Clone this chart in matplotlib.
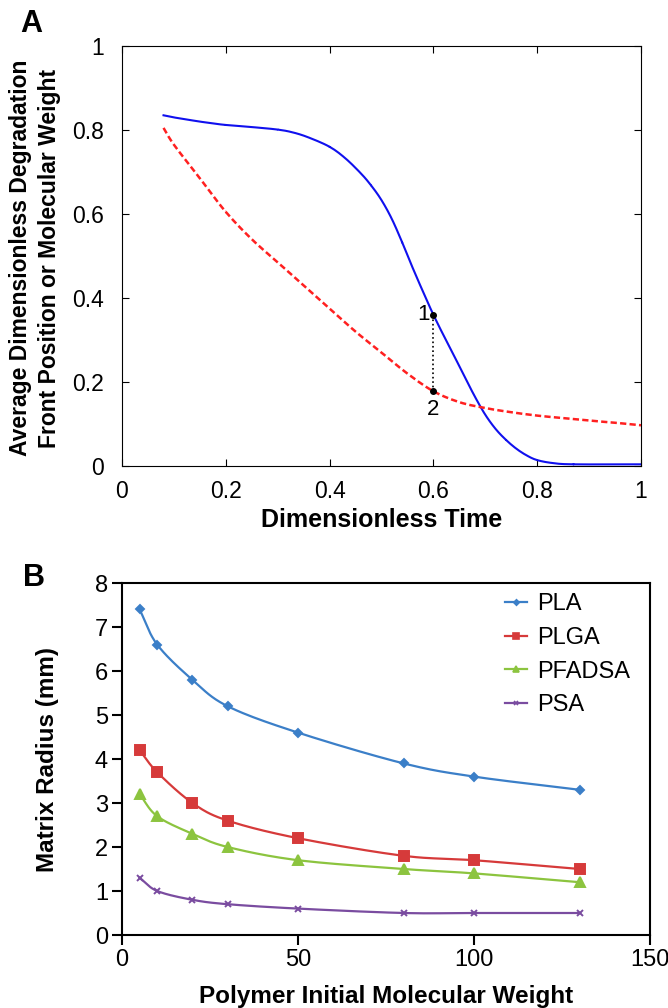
import numpy as np
import matplotlib
matplotlib.use('Agg')
import matplotlib.pyplot as plt

plt.rcParams['font.family'] = ['Liberation Sans', 'DejaVu Sans']

### panel A: dimensionless front position / molecular weight vs time
time_front = [0.08, 0.10, 0.12, 0.15, 0.18, 0.20, 0.25, 0.30, 0.33, 0.36, 0.40, 0.43, 0.46,
              0.48, 0.50, 0.52, 0.54, 0.56, 0.58, 0.60, 0.62, 0.64, 0.66, 0.68, 0.70, 0.72,
              0.74, 0.76, 0.78, 0.80, 0.83, 0.87, 1.00]
front = [0.835, 0.830, 0.826, 0.820, 0.815, 0.812, 0.807, 0.801, 0.794, 0.782, 0.760, 0.733, 0.697,
         0.668, 0.633, 0.588, 0.532, 0.472, 0.415, 0.360, 0.310, 0.262, 0.213, 0.165, 0.122, 0.088,
         0.062, 0.041, 0.025, 0.014, 0.007, 0.004, 0.004]
time_mw = [0.08, 0.10, 0.15, 0.20, 0.25, 0.30, 0.35, 0.40, 0.45, 0.50, 0.55, 0.60,
           0.65, 0.70, 0.75, 0.80, 0.85, 0.90, 0.95, 1.00]
mw = [0.805, 0.765, 0.685, 0.605, 0.540, 0.485, 0.430, 0.375, 0.320, 0.270, 0.220, 0.178,
      0.152, 0.138, 0.128, 0.120, 0.114, 0.108, 0.103, 0.097]
pt_x = [0.6, 0.6]
pt_y = [0.36, 0.178]

### panel B: matrix radius vs initial molecular weight
mol_wt = [5, 10, 20, 30, 50, 80, 100, 130]
radius = {
    'PLA':    [7.4, 6.6, 5.8, 5.2, 4.6, 3.9, 3.6, 3.3],
    'PLGA':   [4.2, 3.7, 3.0, 2.6, 2.2, 1.8, 1.7, 1.5],
    'PFADSA': [3.2, 2.7, 2.3, 2.0, 1.7, 1.5, 1.4, 1.2],
    'PSA':    [1.3, 1.0, 0.8, 0.7, 0.6, 0.5, 0.5, 0.5],
}
colors = {'PLA': '#3b7fc8', 'PLGA': '#d63a3a', 'PFADSA': '#8cc43f', 'PSA': '#7a4ca0'}
markers = {'PLA': 'D', 'PLGA': 's', 'PFADSA': '^', 'PSA': 'x'}
msizes = {'PLA': 4, 'PLGA': 6.5, 'PFADSA': 6.5, 'PSA': 5}


def smooth(xs, ys, n=20):
    # catmull-rom through the points, just for a smooth line like excel
    xs = np.asarray(xs, float)
    ys = np.asarray(ys, float)
    px = np.concatenate([[2*xs[0]-xs[1]], xs, [2*xs[-1]-xs[-2]]])
    py = np.concatenate([[2*ys[0]-ys[1]], ys, [2*ys[-1]-ys[-2]]])
    outx, outy = [], []
    t = np.linspace(0, 1, n)
    for i in range(1, len(px)-2):
        for arr, out in ((px, outx), (py, outy)):
            p0, p1, p2, p3 = arr[i-1], arr[i], arr[i+1], arr[i+2]
            out.extend(0.5*((2*p1) + (-p0+p2)*t + (2*p0-5*p1+4*p2-p3)*t**2
                            + (-p0+3*p1-3*p2+p3)*t**3))
    return outx, outy


fig = plt.figure(figsize=(6.68, 10.08), dpi=100)

axA = fig.add_axes([122/668, 1-466/1008, 519/668, 420/1008])
sx, sy = smooth(time_front, front, 8)
axA.plot(sx, sy, color='#1010ee', lw=1.5)
sx, sy = smooth(time_mw, mw, 8)
axA.plot(sx, sy, color='#ff2020', lw=1.8, ls=(0, (2.5, 1.3)))
axA.plot(pt_x, pt_y, color='black', lw=1.2, ls=':')
axA.plot(pt_x, pt_y, 'o', color='black', ms=4)
axA.text(pt_x[0]-0.007, pt_y[0], '1', fontsize=16, ha='right', va='center')
axA.text(pt_x[1], pt_y[1]-0.018, '2', fontsize=16, ha='center', va='top')
axA.set_xlim(0, 1)
axA.set_ylim(0, 1)
axA.set_xticks([0, 0.2, 0.4, 0.6, 0.8, 1])
axA.set_xticklabels(['0', '0.2', '0.4', '0.6', '0.8', '1'])
axA.set_yticks([0, 0.2, 0.4, 0.6, 0.8, 1])
axA.set_yticklabels(['0', '0.2', '0.4', '0.6', '0.8', '1'])
axA.tick_params(direction='in', top=True, right=True, labelsize=16.5, length=5)
axA.tick_params(axis='y', pad=13)
axA.tick_params(axis='x', pad=10)
axA.set_xlabel('Dimensionless Time', fontsize=18, fontweight='bold', labelpad=4)
fig.text(35/668, 1-258/1008, 'Average Dimensionless Degradation\nFront Position or Molecular Weight',
         fontsize=16.5, fontweight='bold', rotation=90, ha='center', va='center',
         linespacing=1.35)
fig.text(31/668, 1-24/1008, 'A', fontsize=22, fontweight='bold', ha='center', va='center')

axB = fig.add_axes([122/668, 1-935/1008, 528/668, 352/1008])
for name, vals in radius.items():
    sx, sy = smooth(mol_wt, vals)
    axB.plot(sx, sy, color=colors[name], lw=1.6)
    axB.plot(mol_wt, vals, ls='none', marker=markers[name], color=colors[name],
             ms=msizes[name], mew=1.4)
    axB.plot([], [], color=colors[name], marker=markers[name], ms=msizes[name]*0.7,
             mew=1.2, lw=1.6, label=name)
for s in axB.spines.values():
    s.set_linewidth(1.5)
axB.set_xlim(0, 150)
axB.set_ylim(0, 8)
axB.set_xticks([0, 50, 100, 150])
axB.set_yticks(range(0, 9))
axB.tick_params(direction='out', labelsize=17, length=7, width=1.5, pad=3)
axB.set_xlabel('Polymer Initial Molecular Weight', fontsize=17.5, fontweight='bold', labelpad=10)
axB.set_ylabel('Matrix Radius (mm)', fontsize=17.5, fontweight='bold', labelpad=26)
axB.legend(loc='upper left', frameon=False, fontsize=17, handlelength=0.95,
           handletextpad=0.42, labelspacing=0.5, borderpad=0, borderaxespad=0,
           bbox_to_anchor=(505/668, 1-593/1008), bbox_transform=fig.transFigure)
fig.text(34/668, 1-578/1008, 'B', fontsize=22, fontweight='bold', ha='center', va='center')

fig.savefig('out.png', dpi=100)
